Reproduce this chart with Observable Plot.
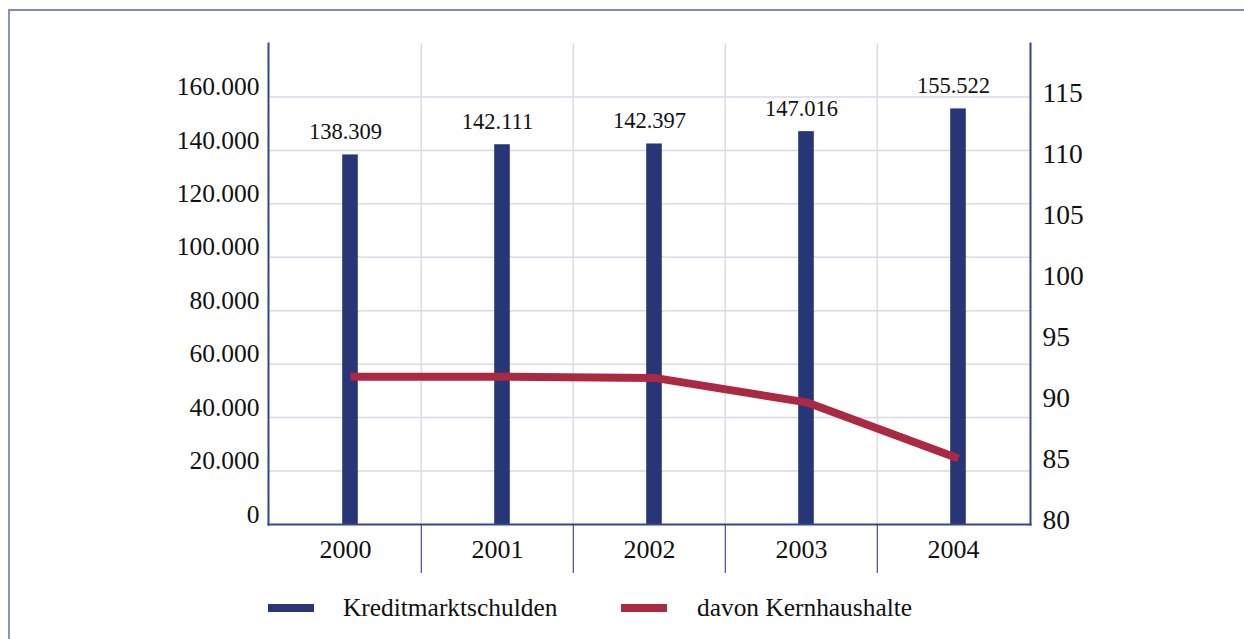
<!DOCTYPE html>
<html>
<head>
<meta charset="utf-8">
<script src="https://cdn.jsdelivr.net/npm/d3@7"></script>
<script src="https://cdn.jsdelivr.net/npm/@observablehq/plot@0.6"></script>
<style>
  html, body { margin: 0; padding: 0; background: #fff; }
  body { width: 1244px; height: 639px; position: relative; overflow: hidden; font-family: "Liberation Serif", "DejaVu Serif", serif; }
  #frame { position: absolute; left: 8px; top: 9px; width: 1300px; height: 700px; border-left: 2px solid #8a92c2; border-top: 2px solid #7f88bb; }
  #chart { position: absolute; left: 0; top: 0; }
  .legend { position: absolute; top: 592px; left: 0; height: 30px; font-size: 25.4px; color: #111; }
  .sw { position: absolute; height: 8px; width: 46px; top: 12px; }
  .lt { position: absolute; top: 0px; line-height: 30px; white-space: nowrap; }
</style>
</head>
<body>
<div id="frame"></div>
<div id="chart"></div>
<div class="legend">
  <div class="sw" id="sw1" style="left:268px"></div>
  <div class="lt" id="lt1" style="left:343px"></div>
  <div class="sw" id="sw2" style="left:621px"></div>
  <div class="lt" id="lt2" style="left:697px"></div>
</div>
<script>
// ---- data ----
const years = ["2000", "2001", "2002", "2003", "2004"];
const kreditmarktschulden = [138309, 142111, 142397, 147016, 155522];
const kernhaushalte = [92.1, 92.1, 92.0, 90.0, 85.4];
const leftTicks = [0, 20000, 40000, 60000, 80000, 100000, 120000, 140000, 160000];
const rightTicks = [80, 85, 90, 95, 100, 105, 110, 115];
const seriesNames = ["Kreditmarktschulden", "davon Kernhaushalte"];
const colors = ["#283677", "#a92a42"];

// ---- layout ----
const W = 1244, H = 600;
const mL = 268, mR = 1244 - 1030, mT = 43, mB = H - 524;
const bw = (W - mL - mR) / years.length;
const leftMax = 180000;
const FF = "'Liberation Serif', 'DejaVu Serif', serif";
// right axis maps 80 -> 0 and 115 -> 160000
const toLeft = v => (v - 80) / 35 * 160000;
const fromLeft = l => 80 + l / 160000 * 35;

const de = d3.formatLocale({decimal: ",", thousands: ".", grouping: [3], currency: ["", " €"]});
const fmt = de.format(",");

const bars = years.map((y, i) => ({year: y, value: kreditmarktschulden[i]}));
const line = years.map((y, i) => ({year: y, value: toLeft(kernhaushalte[i])}));
const boundaries = years.slice(1);

const plot = Plot.plot({
  width: W, height: H,
  marginLeft: mL, marginRight: mR, marginTop: mT, marginBottom: mB,
  style: {fontFamily: FF, color: "#111", background: "transparent"},
  x: {type: "band", domain: years, padding: 0, axis: null, label: null},
  y: {domain: [0, leftMax], axis: null, label: null},
  marks: [
    Plot.gridY(leftTicks.filter(d => d > 0), {stroke: "#d9d9ea", strokeOpacity: 1, strokeWidth: 1.5}),
    Plot.ruleX(boundaries, {x: d => d, dx: -bw / 2, stroke: "#d9d9ea", strokeWidth: 1.5}),
    Plot.axisX(boundaries, {tickSize: 49, tickFormat: () => "", label: null, dx: -bw / 2, stroke: "#3f4d9c", strokeWidth: 1.2}),
    Plot.axisX({tickSize: 0, tickPadding: 15, fontSize: 26, fontFamily: FF, label: null, fill: "#111"}),
    Plot.axisY(leftTicks, {anchor: "left", tickSize: 0, tickPadding: 9, dy: -10, fontSize: 25.5, fontFamily: FF, label: null, tickFormat: fmt, fill: "#111"}),
    Plot.axisY(rightTicks.map(toLeft), {anchor: "right", tickSize: 0, tickPadding: 12, dy: -4, fontSize: 27.5, fontFamily: FF, label: null,
      tickFormat: d => String(Math.round(fromLeft(d))), fill: "#111"}),
    Plot.barY(bars, {x: "year", y: "value", fill: colors[0], insetLeft: (bw - 16) / 2, insetRight: (bw - 16) / 2, dx: 5}),
    Plot.line(line, {x: "year", y: "value", stroke: colors[1], strokeWidth: 8, strokeLinecap: "butt", strokeLinejoin: "round", dx: 5}),
    Plot.text(bars, {x: "year", y: "value", text: d => fmt(d.value), dy: -23, fontSize: 22.5, fontFamily: FF, fill: "#111"}),
    Plot.frame({anchor: "left", stroke: "#33449a", strokeWidth: 2}),
    Plot.frame({anchor: "right", stroke: "#33449a", strokeWidth: 2}),
    Plot.frame({anchor: "bottom", stroke: "#33449a", strokeWidth: 2})
  ]
});
document.getElementById("chart").appendChild(plot);

document.getElementById("sw1").style.background = colors[0];
document.getElementById("sw2").style.background = colors[1];
document.getElementById("lt1").textContent = seriesNames[0];
document.getElementById("lt2").textContent = seriesNames[1];
</script>
</body>
</html>
